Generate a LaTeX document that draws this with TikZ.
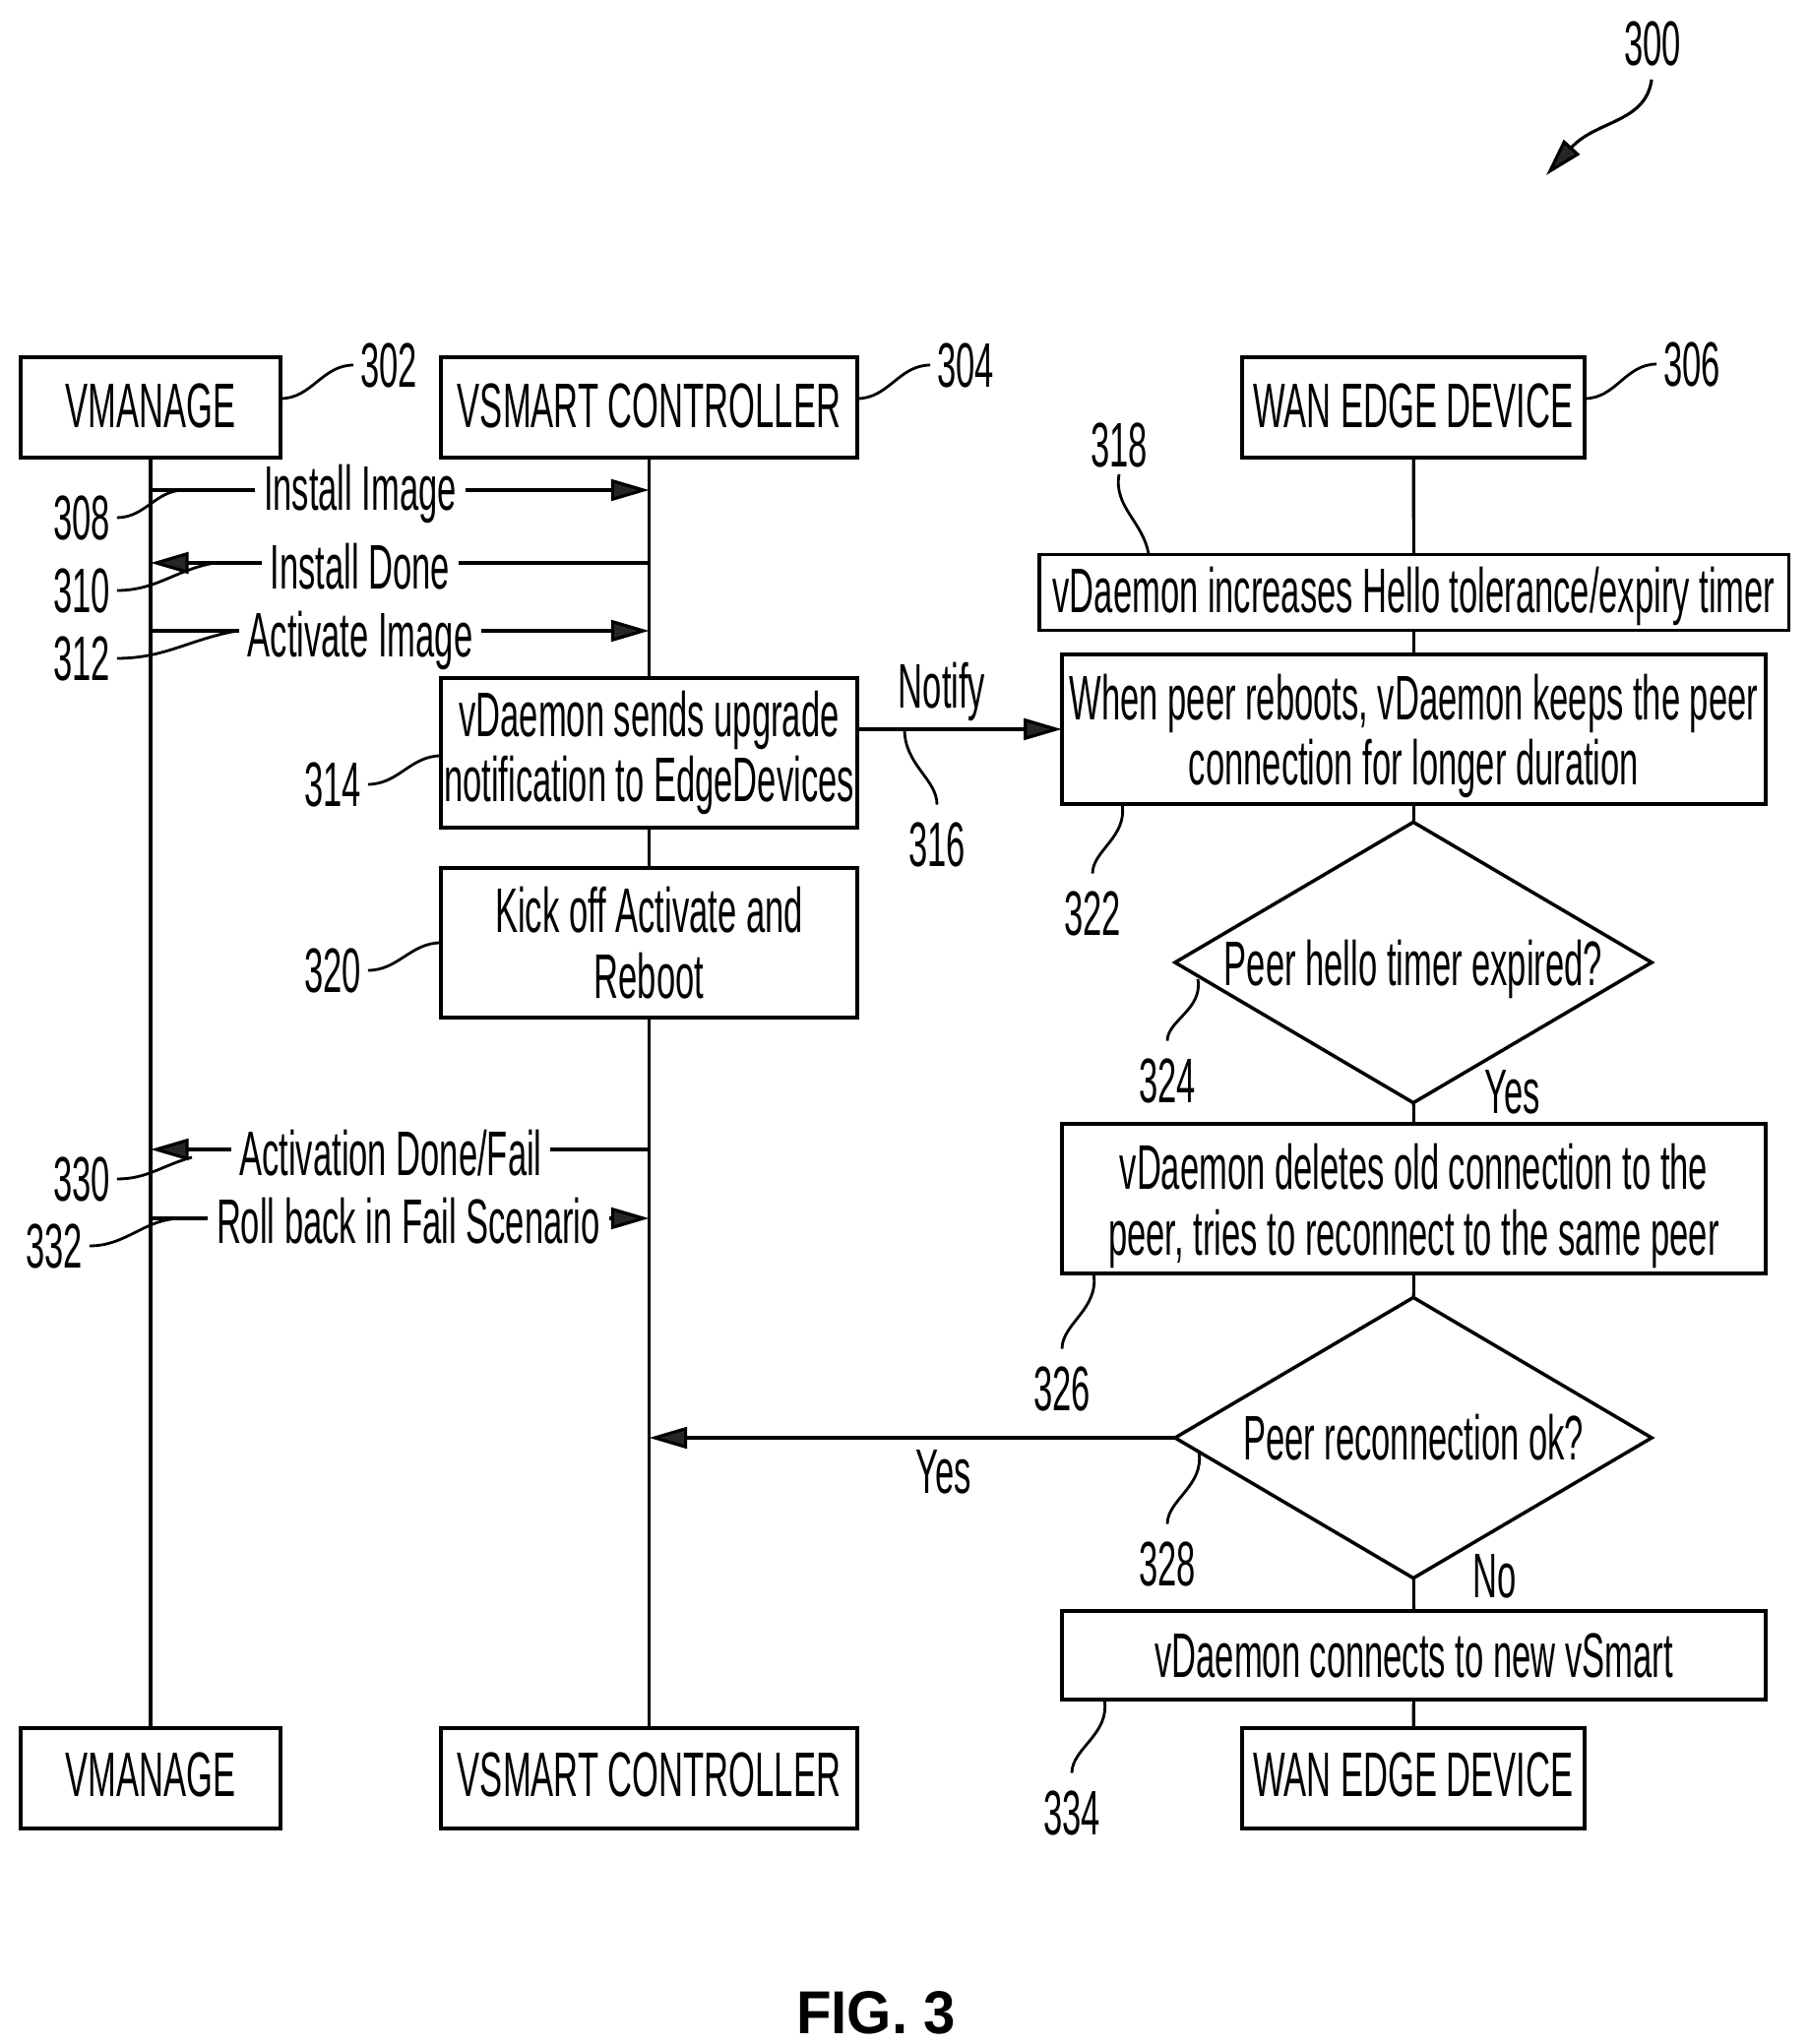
\documentclass[tikz,border=0pt]{standalone}
\usepackage{fontspec}
\setmainfont{Liberation Sans}[FakeStretch=0.54]
\newfontfamily\capfont{Liberation Sans}[FakeStretch=0.945]
\usetikzlibrary{arrows.meta,shapes.geometric}
\begin{document}
\begin{tikzpicture}[x=0.01cm,y=-0.01cm]
	\tikzstyle{every node}+=[inner sep=0pt,outer sep=0pt,font=\fontsize{18.2pt}{18.9pt}\selectfont]
	\tikzstyle{box}=[draw,line width=1pt,align=center]
	\tikzstyle{head}=[box,minimum height=1.02cm,text height=13pt,text depth=1.5pt]
	\tikzstyle{tall}=[box,minimum width=7.15cm,minimum height=1.52cm]
	\tikzstyle{mid}=[box,minimum width=4.23cm,minimum height=1.52cm]
	\tikzstyle{decision}=[draw,line width=1pt,diamond,minimum width=4.84cm,minimum height=2.85cm]
	\tikzstyle{msg}=[text height=13pt,text depth=0pt,inner xsep=2.5pt]
	\tikzstyle{num}=[text height=13pt,text depth=0pt,inner sep=2pt]
	\tikzstyle{line}=[line width=0.9pt]
	\tikzstyle{flow}=[line,-{Triangle[length=11pt,width=6.2pt,fill=black!85]}]
	\tikzstyle{leader}=[line width=0.8pt]
	\tikzstyle{leaderup}=[leader,shorten <=3pt]
	\useasboundingbox (0,0) rectangle (1838,2077);

	\node[head,minimum width=2.64cm] (vmanage) at (153,414) {VMANAGE};
	\node[head,minimum width=4.23cm] (vsmart) at (659.5,414) {VSMART CONTROLLER};
	\node[head,minimum width=3.48cm] (wan) at (1436,414) {WAN EDGE DEVICE};
	\node[head,text depth=2.6pt,minimum width=2.64cm] (vmanageb) at (153,1807) {VMANAGE};
	\node[head,text depth=2.6pt,minimum width=4.23cm] (vsmartb) at (659.5,1807) {VSMART CONTROLLER};
	\node[head,text depth=2.6pt,minimum width=3.48cm] (wanb) at (1436,1807) {WAN EDGE DEVICE};

	\node[mid] (upgrade) at (659.5,765) {vDaemon sends upgrade\\notification to EdgeDevices};
	\node[mid] (kick) at (659.5,958) {Kick off Activate and\\Reboot};
	\node[box,minimum width=7.61cm,minimum height=0.77cm] (hello) at (1436.5,602) {\rule{0pt}{15.6pt}vDaemon increases Hello tolerance/expiry timer};
	\node[tall] (keep) at (1436.5,741) {\rule{0pt}{17.1pt}When peer reboots, vDaemon keeps the peer\\connection for longer duration};
	\node[decision,label={center:\rule{0pt}{17pt}Peer hello timer expired?}] (expired) at (1436,978) {};
	\node[tall] (delete) at (1436.5,1218) {\rule{0pt}{17.5pt}vDaemon deletes old connection to the\\peer, tries to reconnect to the same peer};
	\node[decision,label={center:Peer reconnection ok?}] (reconn) at (1436,1461) {};
	\node[box,minimum width=7.15cm,minimum height=0.90cm] (newsmart) at (1436.5,1682) {vDaemon connects to new vSmart};

	\draw[line] (vmanage) -- (vmanageb);
	\draw[line] (vsmart) -- (upgrade);
	\draw[line] (upgrade) -- (kick);
	\draw[line] (kick) -- (vsmartb);
	\draw[line] (wan) -- (hello);
	\draw[line] (hello) -- (keep);
	\draw[line] (keep) -- (expired);
	\draw[line] (expired) -- (delete);
	\draw[line] (delete) -- (reconn);
	\draw[line] (reconn) -- (newsmart);
	\draw[line] (newsmart) -- (wanb);

	\node[msg,text depth=1.5pt] (install) at (366,498) {Install Image};
	\node[msg,text height=14.9pt] (done) at (366,572) {Install Done};
	\node[msg,text height=15.3pt] (activate) at (366,641) {Activate Image};
	\node[msg,text height=15.2pt] (actdone) at (397,1168) {Activation Done/Fail};
	\node[msg,text height=14.5pt] (rollback) at (415,1238) {Roll back in Fail Scenario};
	\draw[line] (vmanage |- install.west) -- (install.west);
	\draw[flow] (install.east) -- (vsmart |- install.east);
	\draw[line] (vsmart |- done.east) -- (done.east);
	\draw[flow] (done.west) -- (vmanage |- done.west);
	\draw[line] (vmanage |- activate.west) -- (activate.west);
	\draw[flow] (activate.east) -- (vsmart |- activate.east);
	\draw[line] (vsmart |- actdone.east) -- (actdone.east);
	\draw[flow] (actdone.west) -- (vmanage |- actdone.west);
	\draw[line] (vmanage |- rollback.west) -- (rollback.west);
	\draw[flow] (rollback.east) -- (vsmart |- rollback.east);

	\draw[flow] (upgrade.east |- keep.west) -- (keep.west);
	\draw[flow] (reconn.west) -- (vsmart |- reconn.west);
	\node (notify) at (957,703) {Notify};
	\node (yesleft) at (959,1496) {Yes};
	\node (yesdown) at (1537,1110) {Yes};
	\node (nodown) at (1519,1602) {No};

	\node[num] (n300) at (1679,44) {300};
	\node[num] (n302) at (395,371) {302};
	\node[num] (n304) at (981,371) {304};
	\node[num] (n306) at (1719,370) {306};
	\node[num] (n308) at (83,526) {308};
	\node[num] (n310) at (83,600) {310};
	\node[num] (n312) at (83,669) {312};
	\node[num] (n314) at (338,797) {314};
	\node[num] (n316) at (952,858) {316};
	\node[num] (n318) at (1137,452) {318};
	\node[num] (n320) at (338,986) {320};
	\node[num] (n322) at (1110,928) {322};
	\node[num] (n324) at (1186,1098) {324};
	\node[num] (n326) at (1079,1411) {326};
	\node[num] (n328) at (1186,1589) {328};
	\node[num] (n330) at (83,1198) {330};
	\node[num] (n332) at (55,1266) {332};
	\node[num] (n334) at (1089,1842) {334};

	\coordinate (t300) at (1571,178);
	\coordinate (t302) at (285,405);
	\coordinate (t304) at (871,405);
	\coordinate (t306) at (1610,405);
	\coordinate (t308) at (187,498);
	\coordinate (t310) at (218,572);
	\coordinate (t312) at (241,641);
	\coordinate (t314) at (448,768);
	\coordinate (t316) at (919,741);
	\coordinate (t318) at (1167,563);
	\coordinate (t320) at (448,958);
	\coordinate (t322) at (1140,817);
	\coordinate (t324) at (1217,995);
	\coordinate (t326) at (1111,1294);
	\coordinate (t328) at (1218,1475);
	\coordinate (t330) at (195,1176);
	\coordinate (t332) at (185,1238);
	\coordinate (t334) at (1122,1727);

	\draw[flow,shorten <=2pt] (n300.south) .. controls (1672,125) and (1622,122) .. (t300);
	\draw[leader] (n302.west) to[out=180,in=0] (t302);
	\draw[leader] (n304.west) to[out=180,in=0] (t304);
	\draw[leader] (n306.west) to[out=180,in=0] (t306);
	\draw[leader] (n308.east) to[out=0,in=180] (t308);
	\draw[leader] (n310.east) to[out=0,in=190] (t310);
	\draw[leader] (n312.east) to[out=0,in=190] (t312);
	\draw[leader] (n314.east) to[out=0,in=180] (t314);
	\draw[leaderup] (n316.north) to[out=90,in=-90] (t316);
	\draw[leader] (n318.south) to[out=-100,in=100] (t318);
	\draw[leader] (n320.east) to[out=0,in=180] (t320);
	\draw[leaderup] (n322.north) to[out=90,in=-80] (t322);
	\draw[leaderup] (n324.north) to[out=90,in=-80] (t324);
	\draw[leaderup] (n326.north) to[out=90,in=-80] (t326);
	\draw[leaderup] (n328.north) to[out=90,in=-80] (t328);
	\draw[leader] (n330.east) to[out=0,in=195] (t330);
	\draw[leader] (n332.east) to[out=0,in=180] (t332);
	\draw[leaderup] (n334.north) to[out=90,in=-80] (t334);

	\node[font=\capfont\bfseries\fontsize{17.5pt}{18pt}\selectfont] (fig) at (890,2045) {FIG. 3};
\end{tikzpicture}
\end{document}
